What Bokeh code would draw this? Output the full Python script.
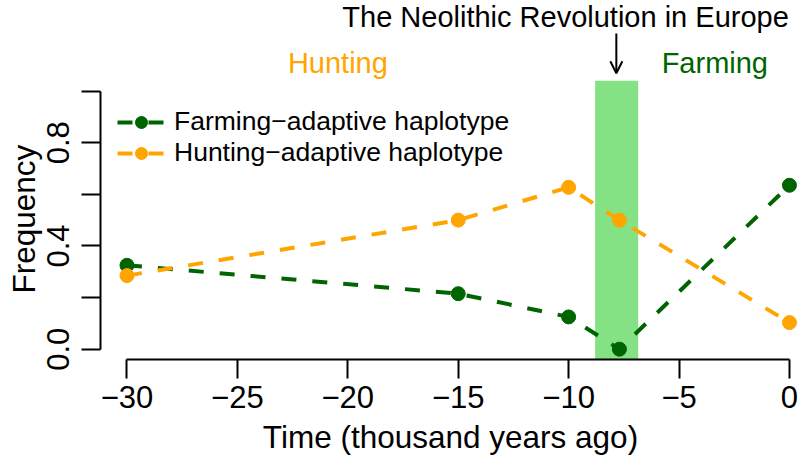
from bokeh.plotting import figure
from bokeh.models import (Range1d, FixedTicker, Label, Arrow, OpenHead,
                          BoxAnnotation, Legend, LegendItem, Title)
from bokeh.embed import file_html
from bokeh.resources import INLINE

# ---- data ----
times = [-30, -15, -10, -7.7, 0]
farming = [0.325, 0.215, 0.125, 0.0, 0.635]
hunting = [0.285, 0.50, 0.627, 0.50, 0.103]

x_ticks = [-30, -25, -20, -15, -10, -5, 0]
x_tick_labels = ["\u221230", "\u221225", "\u221220", "\u221215", "\u221210", "\u22125", "0"]
y_ticks = [0.0, 0.2, 0.4, 0.6, 0.8, 1.0]
y_tick_labels = ["0.0", "", "0.4", "", "0.8", ""]

neolithic_start = -8.8
neolithic_end = -6.85

series_names = ["Farming\u2212adaptive haplotype", "Hunting\u2212adaptive haplotype"]
title_text = "The Neolithic Revolution in Europe"
period_labels = ["Hunting", "Farming"]

# ---- style / layout ----
GREEN = "#006400"
ORANGE = "#FFA500"
FONT = "Liberation Sans"
BAND_TOP = 1.04  # top of the plotting region

p = figure(width=800, height=463, output_backend="svg", toolbar_location=None,
           x_range=Range1d(-31.2, 0.5), y_range=Range1d(-0.04, 1.351),
           min_border_left=98, min_border_right=0, min_border_top=0,
           min_border_bottom=104)
p.outline_line_color = None
p.grid.visible = False
p.background_fill_color = "white"
p.border_fill_color = "white"

# Neolithic band
band = BoxAnnotation(left=neolithic_start, right=neolithic_end, top=BAND_TOP,
                     fill_color="#32cd32", fill_alpha=0.6, line_color=None,
                     level="underlay")
p.add_layout(band)

# series
lg = p.line(times, farming, line_color=GREEN, line_width=4, line_dash="15 16")
sg = p.scatter(times, farming, size=14, fill_color=GREEN, line_color=GREEN)
lo = p.line(times, hunting, line_color=ORANGE, line_width=4, line_dash="15 16")
so = p.scatter(times, hunting, size=14, fill_color=ORANGE, line_color=ORANGE)

legend = Legend(items=[LegendItem(label=series_names[0], renderers=[lg, sg]),
                       LegendItem(label=series_names[1], renderers=[lo, so])],
                location=(17, 191), orientation="vertical",
                label_text_font=FONT, label_text_font_size="26.5px",
                label_text_color="black", glyph_width=48, glyph_height=30,
                label_height=30, spacing=0, padding=0, margin=0,
                label_standoff=9, border_line_alpha=0,
                background_fill_alpha=0)
p.add_layout(legend, "center")

# axes
xa = p.xaxis[0]
xa.ticker = FixedTicker(ticks=x_ticks)
xa.major_label_overrides = {t: l for t, l in zip(x_ticks, x_tick_labels)}
xa.bounds = (x_ticks[0], x_ticks[-1])
xa.axis_label = "Time (thousand years ago)"

ya = p.yaxis[0]
ya.ticker = FixedTicker(ticks=y_ticks)
ya.major_label_overrides = {t: l for t, l in zip(y_ticks, y_tick_labels)}
ya.bounds = (y_ticks[0], y_ticks[-1])
ya.major_label_orientation = "vertical"

for ax in (xa, ya):
    ax.axis_line_width = 2
    ax.axis_line_color = "black"
    ax.major_tick_line_width = 2
    ax.major_tick_line_color = "black"
    ax.major_tick_out = 19
    ax.major_tick_in = 0
    ax.minor_tick_out = 0
    ax.minor_tick_in = 0
    ax.major_label_text_font = FONT
    ax.major_label_text_font_size = "31px"
    ax.major_label_text_color = "black"
    ax.axis_label_text_font = FONT
    ax.axis_label_text_font_size = "31.5px"
    ax.axis_label_text_font_style = "normal"
    ax.axis_label_text_color = "black"
xa.major_label_standoff = 7
xa.axis_label_standoff = 8
ya.major_label_standoff = 12

# y axis title, placed along the 0..1 axis rather than the whole frame
p.add_layout(Title(text="Frequency", align="left", offset=66, standoff=6,
                   text_font=FONT, text_font_size="31.5px",
                   text_font_style="normal", text_color="black"), "left")

# annotations above the plotting region
p.add_layout(Label(x=-10.14, y=1.289, text=title_text, text_align="center",
                   text_baseline="middle", text_font=FONT,
                   text_font_size="29px", text_color="black"))
p.add_layout(Label(x=-20.45, y=1.107, text=period_labels[0], text_align="center",
                   text_baseline="middle", text_font=FONT,
                   text_font_size="29px", text_color=ORANGE))
p.add_layout(Label(x=-3.38, y=1.107, text=period_labels[1], text_align="center",
                   text_baseline="middle", text_font=FONT,
                   text_font_size="29px", text_color=GREEN))
p.add_layout(Arrow(x_start=-7.84, y_start=1.223, x_end=-7.84, y_end=1.069,
                   line_width=2, line_color="black",
                   end=OpenHead(size=12, line_width=2, line_color="black")))

open("out.html", "w").write(file_html(p, INLINE))
